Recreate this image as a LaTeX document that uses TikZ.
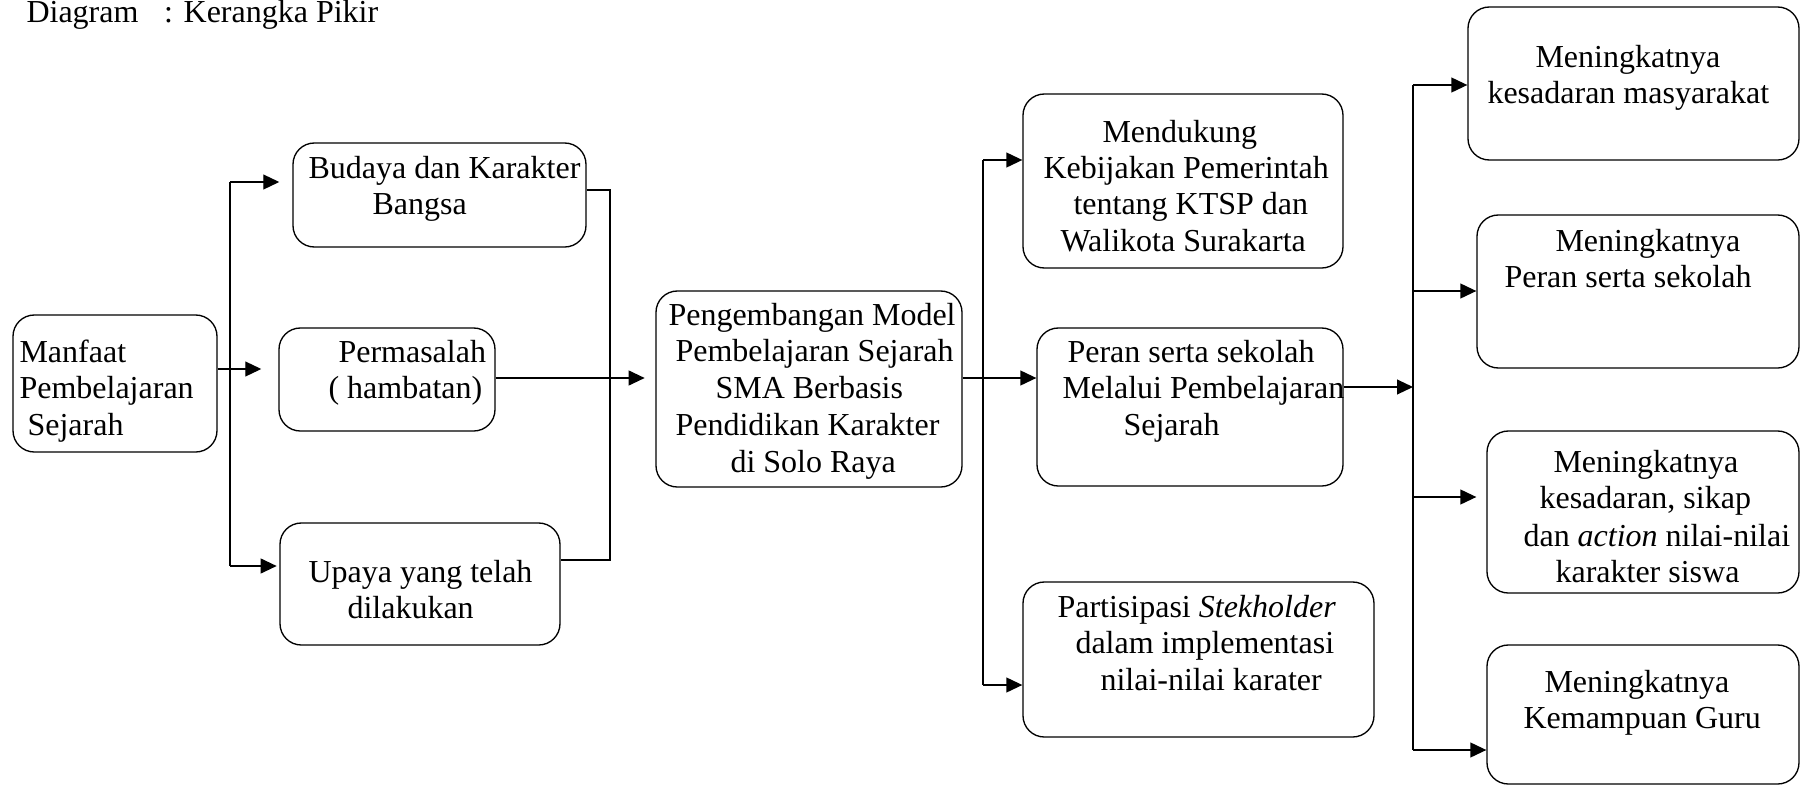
\documentclass[tikz,border=0pt]{standalone}
\usepackage{fontspec}
\setmainfont{Liberation Serif}
\usetikzlibrary{arrows.meta,fit}

\tikzset{
  kotak/.style={draw, rounded corners=8pt, line width=0.5pt, inner sep=0pt},
  tulisan/.style={anchor=base west, inner sep=0pt, font=\fontsize{12}{14}\selectfont},
  garis/.style={line width=0.5pt},
  panah/.style={garis, -{Triangle[length=6pt,width=5.6pt]}, shorten >=#1},
  panah/.default=0pt
}

\begin{document}
\begin{tikzpicture}[x=0.375pt, y=-0.375pt]
  \useasboundingbox (0,0) rectangle (1802,786);

  % judul
  \node[tulisan] (judul) at (26,22) {Diagram\hspace{0.8em}: Kerangka Pikir};

  % kotak
  \foreach \nama/\a/\b/\c/\d in {
      manfaat/13/315/217/452,
      budaya/293/143/586/247,
      masalah/279/328/495/431,
      upaya/280/523/560/645,
      model/656/291/962/487,
      dukung/1023/94/1343/268,
      peran/1037/328/1343/486,
      stake/1023/582/1374/737,
      hasila/1468/7/1799/160,
      hasilb/1477/215/1799/368,
      hasilc/1487/431/1799/593,
      hasild/1487/645/1799/784
    } {
      \node[kotak, fit={(\a,\b) (\c,\d)}] (\nama) {};
    }

  % isi kotak, baris demi baris
  \foreach \x/\y/\teks [count=\i] in {
      19/362/Manfaat, 19/398/Pembelajaran, 27/435/Sejarah,
      308/178/{Budaya dan Karakter}, 372/214/Bangsa,
      338/362/Permasalah, 328/398/{( hambatan)},
      308/582/{Upaya yang telah}, 347/618/dilakukan,
      668/325/{Pengembangan Model}, 675/361/{Pembelajaran Sejarah},
      715/398/{SMA Berbasis}, 675/435/{Pendidikan Karakter},
      730/472/{di Solo Raya},
      1102/142/Mendukung, 1043/178/{Kebijakan Pemerintah},
      1073/214/{tentang KTSP dan}, 1060/251/{Walikota Surakarta},
      1067/362/{Peran serta sekolah}, 1062/398/{Melalui Pembelajaran},
      1123/435/Sejarah,
      1057/617/{Partisipasi \textit{Stekholder}}, 1075/653/{dalam implementasi},
      1100/690/{nilai-nilai karater},
      1535/67/Meningkatnya, 1487/103/{kesadaran masyarakat},
      1555/251/Meningkatnya, 1504/287/{Peran serta sekolah},
      1553/472/Meningkatnya, 1539/508/{kesadaran, sikap},
      1523/546/{dan \textit{action} nilai-nilai}, 1555/582/{karakter siswa},
      1544/692/Meningkatnya, 1523/728/{Kemampuan Guru}
    } {
      \node[tulisan] (teks\i) at (\x,\y) {\teks};
    }

  % cabang kiri
  \coordinate (kiri atas) at (230,182);
  \coordinate (kiri tengah) at (230,369);
  \coordinate (kiri bawah) at (230,566);
  \draw[garis] (kiri atas) -- (kiri bawah);
  \draw[panah=4.9pt] (kiri atas) -- (budaya.west |- kiri atas);
  \draw[panah=6.4pt] (manfaat.east |- kiri tengah) -- (masalah.west |- kiri tengah);
  \draw[panah=1pt] (kiri bawah) -- (upaya.west |- kiri bawah);

  % gabungan ke model
  \coordinate (gabung atas) at (610,190);
  \coordinate (gabung) at (610,378);
  \coordinate (gabung bawah) at (610,560);
  \draw[garis] (budaya.east |- gabung atas) -- (gabung atas) -- (gabung bawah)
    -- (upaya.east |- gabung bawah);
  \draw[panah=4pt] (masalah.east |- gabung) -- (model.west |- gabung);

  % cabang tengah
  \coordinate (tengah atas) at (983,160);
  \coordinate (tengah) at (983,378);
  \coordinate (tengah bawah) at (983,685);
  \draw[garis] (tengah atas) -- (tengah bawah);
  \draw[panah] (tengah atas) -- (dukung.west |- tengah atas);
  \draw[panah] (model.east |- tengah) -- (peran.west |- tengah);
  \draw[panah] (tengah bawah) -- (stake.west |- tengah bawah);

  % cabang kanan
  \coordinate (hasil atas) at (1413,85);
  \coordinate (hasil masuk) at (1413,387);
  \coordinate (hasil bawah) at (1413,750);
  \coordinate (hasil dua) at (1413,291);
  \coordinate (hasil tiga) at (1413,497);
  \draw[garis] (hasil atas) -- (hasil bawah);
  \draw[panah] (peran.east |- hasil masuk) -- (hasil masuk);
  \draw[panah] (hasil atas) -- (hasila.west |- hasil atas);
  \draw[panah] (hasil dua) -- (hasilb.west |- hasil dua);
  \draw[panah=3.75pt] (hasil tiga) -- (hasilc.west |- hasil tiga);
  \draw[panah] (hasil bawah) -- (hasild.west |- hasil bawah);
\end{tikzpicture}
\end{document}
